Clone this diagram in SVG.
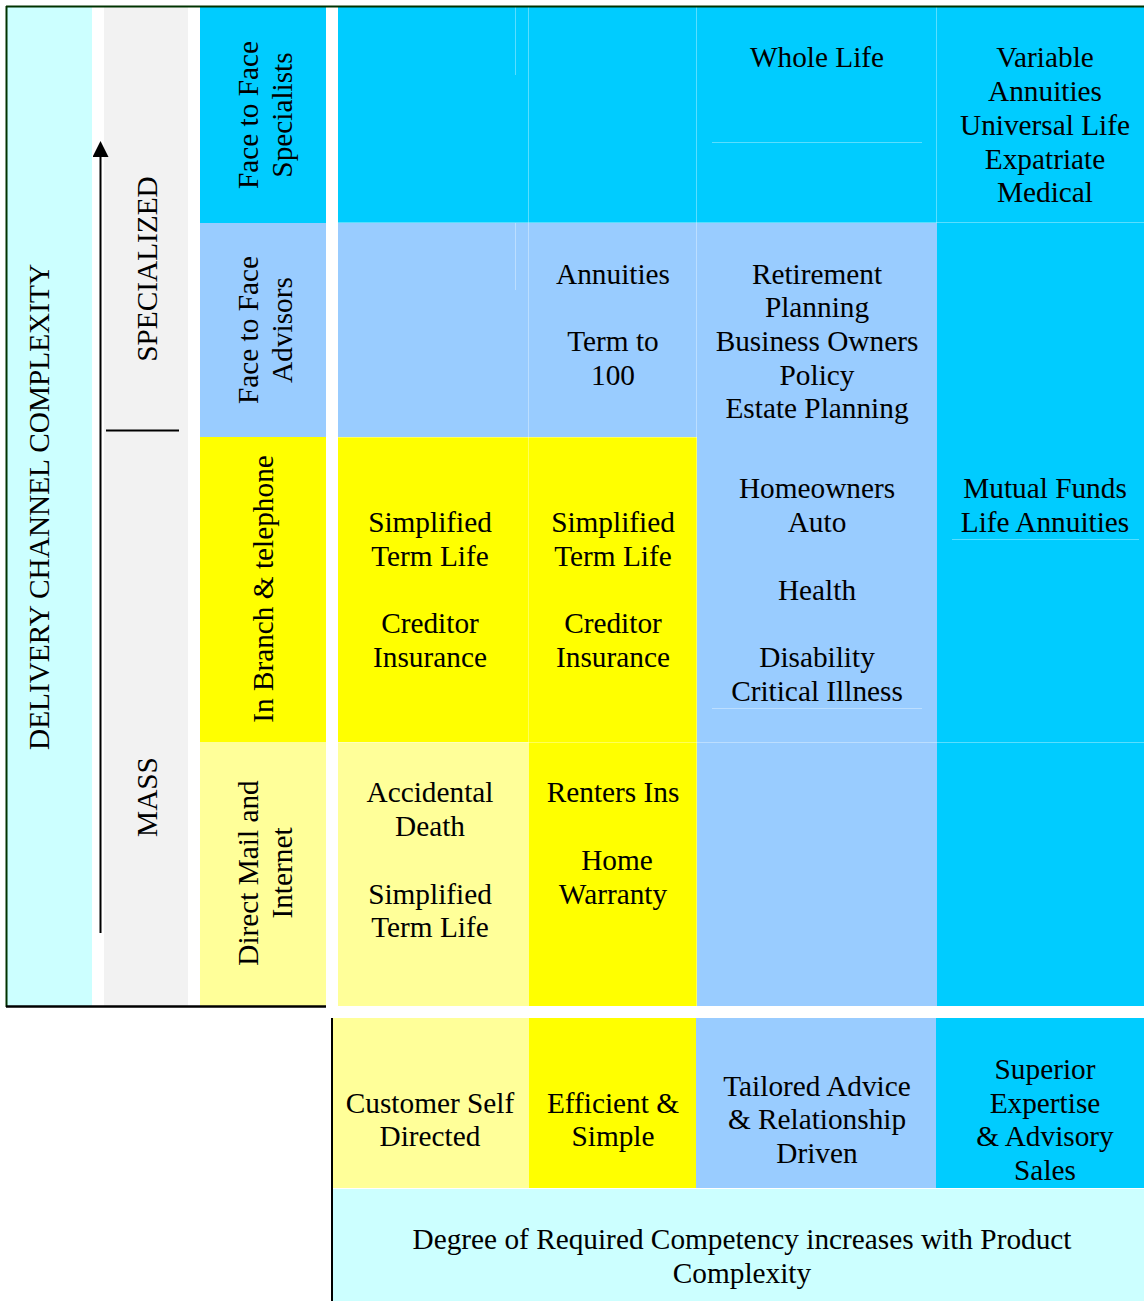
<svg xmlns="http://www.w3.org/2000/svg" width="1144" height="1301" viewBox="0 0 1144 1301">
<style>
text{font-family:"Liberation Serif","Times New Roman",serif;font-size:29.3px;fill:#000;text-anchor:middle}
.cy{fill:#00CCFF}.lb{fill:#99CCFF}.ye{fill:#FFFF00}.ly{fill:#FFFF99}.lc{fill:#CCFFFF}.gr{fill:#F2F2F2}
.faint{stroke:#FFFFFF;stroke-opacity:0.35;stroke-width:1;fill:none}
</style>
<defs>
<marker id="ah" viewBox="0 0 16 16" refX="7" refY="8" markerWidth="16" markerHeight="16" markerUnits="userSpaceOnUse" orient="auto">
<path d="M0,0 L16,8 L0,16 Z" fill="#000"/>
</marker>
</defs>
<rect width="1144" height="1301" fill="#FFFFFF"/>

<g id="axis-delivery">
<rect class="lc" x="7" y="7" width="85" height="999"/>
<text transform="translate(49,507) rotate(-90)">DELIVERY CHANNEL COMPLEXITY</text>
</g>
<g id="axis-level">
<rect class="gr" x="104" y="7" width="84" height="999"/>
<text transform="translate(157,269) rotate(-90)">SPECIALIZED</text>
<text transform="translate(157,797) rotate(-90)">MASS</text>
<line x1="106" y1="430.5" x2="179" y2="430.5" stroke="#000" stroke-width="2"/>
</g>

<g id="row-specialists">
<rect class="cy" x="200" y="7" width="126" height="216"/>
<text transform="translate(264,115) rotate(-90)"><tspan x="0" y="-6">Face to Face</tspan><tspan x="0" y="28">Specialists</tspan></text>
</g>
<g id="row-advisors">
<rect class="lb" x="200" y="223" width="126" height="214"/>
<text transform="translate(264,330) rotate(-90)"><tspan x="0" y="-6">Face to Face</tspan><tspan x="0" y="28">Advisors</tspan></text>
</g>
<g id="row-branch">
<rect class="ye" x="200" y="437" width="126" height="305"/>
<text transform="translate(273,589) rotate(-90)">In Branch &amp; telephone</text>
</g>
<g id="row-direct">
<rect class="ly" x="200" y="742" width="126" height="264"/>
<text transform="translate(264,873) rotate(-90)"><tspan x="0" y="-6">Direct Mail and</tspan><tspan x="0" y="28">Internet</tspan></text>
</g>

<g id="grid-backgrounds">
<rect class="cy" x="338" y="7" width="806" height="216"/>
<rect class="lb" x="338" y="223" width="599" height="214"/>
<rect class="cy" x="937" y="223" width="207" height="783"/>
<rect class="ye" x="338" y="437" width="359" height="305"/>
<rect class="lb" x="697" y="437" width="240" height="569"/>
<rect class="ly" x="338" y="742" width="191" height="264"/>
<rect class="ye" x="529" y="742" width="168" height="264"/>
<path class="faint" d="M515.5,7 V75 M515.5,223 V290 M528.5,7 V742 M696.5,7 V1006 M936.5,7 V223 M712,142.5 H922 M338,222.5 H1144 M952,539.5 H1139 M712,708.5 H922 M338,742.5 H1144 M338,437.5 H697"/>
</g>

<g id="cell-whole-life"><text x="817" y="67">Whole Life</text></g>
<g id="cell-specialist-products"><text><tspan x="1045" y="67">Variable</tspan><tspan x="1045" y="101">Annuities</tspan><tspan x="1045" y="135">Universal Life</tspan><tspan x="1045" y="169">Expatriate</tspan><tspan x="1045" y="202">Medical</tspan></text></g>
<g id="cell-annuities"><text><tspan x="613" y="284">Annuities</tspan><tspan x="613" y="351">Term to</tspan><tspan x="613" y="385">100</tspan></text></g>
<g id="cell-retirement"><text><tspan x="817" y="284">Retirement</tspan><tspan x="817" y="317">Planning</tspan><tspan x="817" y="351">Business Owners</tspan><tspan x="817" y="385">Policy</tspan><tspan x="817" y="418">Estate Planning</tspan></text></g>
<g id="cell-branch-col1"><text><tspan x="430" y="532">Simplified</tspan><tspan x="430" y="566">Term Life</tspan><tspan x="430" y="633">Creditor</tspan><tspan x="430" y="667">Insurance</tspan></text></g>
<g id="cell-branch-col2"><text><tspan x="613" y="532">Simplified</tspan><tspan x="613" y="566">Term Life</tspan><tspan x="613" y="633">Creditor</tspan><tspan x="613" y="667">Insurance</tspan></text></g>
<g id="cell-homeowners"><text><tspan x="817" y="498">Homeowners</tspan><tspan x="817" y="532">Auto</tspan><tspan x="817" y="600">Health</tspan><tspan x="817" y="667">Disability</tspan><tspan x="817" y="701">Critical Illness</tspan></text></g>
<g id="cell-mutual-funds"><text><tspan x="1045" y="498">Mutual Funds</tspan><tspan x="1045" y="532">Life Annuities</tspan></text></g>
<g id="cell-accidental"><text><tspan x="430" y="802">Accidental</tspan><tspan x="430" y="836">Death</tspan><tspan x="430" y="904">Simplified</tspan><tspan x="430" y="937">Term Life</tspan></text></g>
<g id="cell-renters"><text><tspan x="613" y="802">Renters Ins</tspan><tspan x="617" y="870">Home</tspan><tspan x="613" y="904">Warranty</tspan></text></g>

<g id="frame">
<path d="M6,6.5 H1144 M6.5,6 V1007" stroke="#003300" stroke-width="2" fill="none"/>
<line x1="6" y1="1006.5" x2="326" y2="1006.5" stroke="#000" stroke-width="2.5"/>
<line x1="332" y1="1018" x2="332" y2="1301" stroke="#000" stroke-width="2"/>
</g>

<g id="cap-self"><rect class="ly" x="333" y="1018" width="196" height="170"/><text><tspan x="430" y="1113">Customer Self</tspan><tspan x="430" y="1146">Directed</tspan></text></g>
<g id="cap-efficient"><rect class="ye" x="529" y="1018" width="167" height="170"/><text><tspan x="613" y="1113">Efficient &amp;</tspan><tspan x="613" y="1146">Simple</tspan></text></g>
<g id="cap-tailored"><rect class="lb" x="696" y="1018" width="240" height="170"/><text><tspan x="817" y="1096">Tailored Advice</tspan><tspan x="817" y="1129">&amp; Relationship</tspan><tspan x="817" y="1163">Driven</tspan></text></g>
<g id="cap-superior"><rect class="cy" x="936" y="1018" width="208" height="170"/><text><tspan x="1045" y="1079">Superior</tspan><tspan x="1045" y="1113">Expertise</tspan><tspan x="1045" y="1146">&amp; Advisory</tspan><tspan x="1045" y="1180">Sales</tspan></text></g>
<g id="cap-degree"><rect class="lc" x="333" y="1189" width="811" height="112"/><text><tspan x="742" y="1249">Degree of Required Competency increases with Product</tspan><tspan x="742" y="1283">Complexity</tspan></text></g>

<g id="connectors">
<line x1="100.5" y1="933" x2="100.5" y2="150" stroke="#000" stroke-width="2" marker-end="url(#ah)"/>
</g>
</svg>
